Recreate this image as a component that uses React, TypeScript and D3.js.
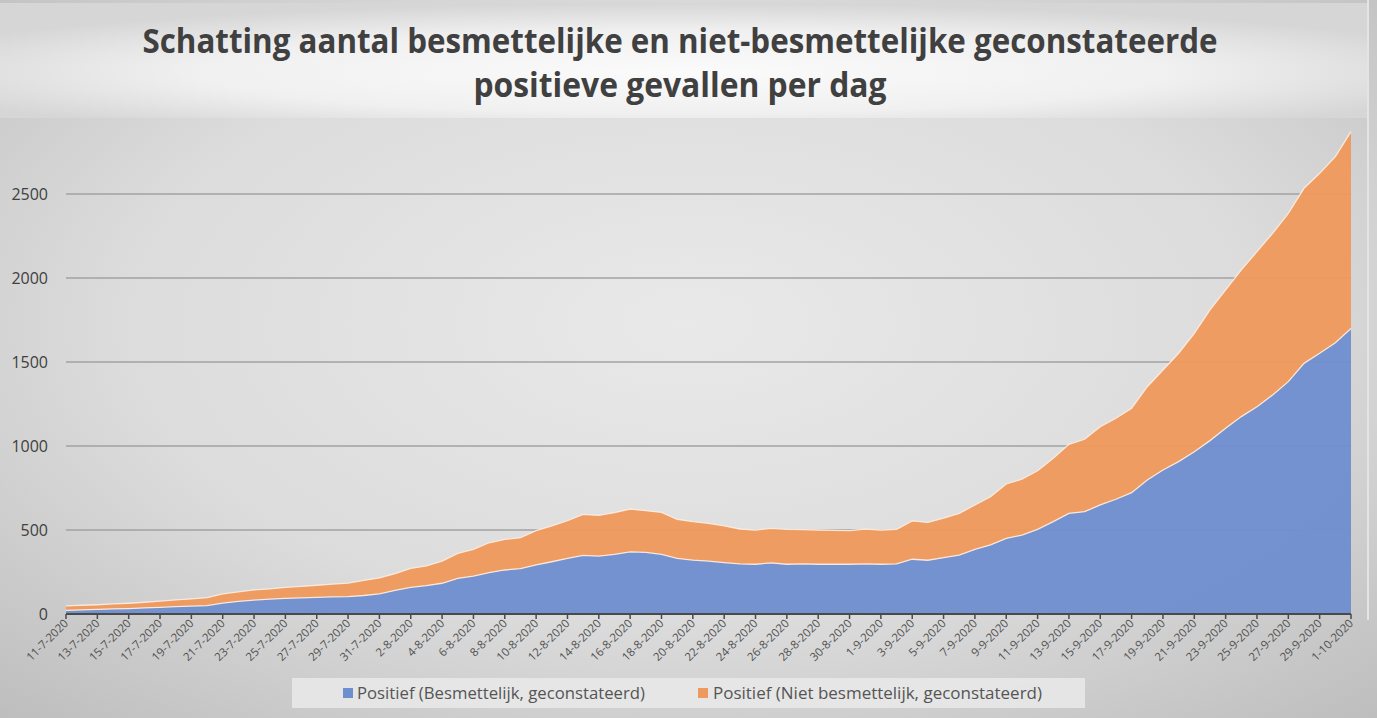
import React from "react";
import * as d3 from "d3";

const dates: string[] = [
  "11-7-2020","12-7-2020","13-7-2020","14-7-2020","15-7-2020","16-7-2020","17-7-2020","18-7-2020","19-7-2020","20-7-2020",
  "21-7-2020","22-7-2020","23-7-2020","24-7-2020","25-7-2020","26-7-2020","27-7-2020","28-7-2020","29-7-2020","30-7-2020",
  "31-7-2020","1-8-2020","2-8-2020","3-8-2020","4-8-2020","5-8-2020","6-8-2020","7-8-2020","8-8-2020","9-8-2020",
  "10-8-2020","11-8-2020","12-8-2020","13-8-2020","14-8-2020","15-8-2020","16-8-2020","17-8-2020","18-8-2020","19-8-2020",
  "20-8-2020","21-8-2020","22-8-2020","23-8-2020","24-8-2020","25-8-2020","26-8-2020","27-8-2020","28-8-2020","29-8-2020",
  "30-8-2020","31-8-2020","1-9-2020","2-9-2020","3-9-2020","4-9-2020","5-9-2020","6-9-2020","7-9-2020","8-9-2020",
  "9-9-2020","10-9-2020","11-9-2020","12-9-2020","13-9-2020","14-9-2020","15-9-2020","16-9-2020","17-9-2020","18-9-2020",
  "19-9-2020","20-9-2020","21-9-2020","22-9-2020","23-9-2020","24-9-2020","25-9-2020","26-9-2020","27-9-2020","28-9-2020",
  "29-9-2020","30-9-2020","1-10-2020",
];

// Positief (Besmettelijk, geconstateerd)
const besmettelijk: number[] = [
  21, 24, 27, 30, 32, 36, 40, 44, 47, 50,
  65, 75, 83, 88, 93, 96, 99, 102, 104, 110,
  120, 140, 159, 169, 183, 212, 226, 246, 262, 270,
  292, 311, 331, 349, 345, 355, 370, 367, 355, 331,
  321, 315, 306, 298, 296, 304, 296, 298, 296, 296,
  296, 298, 296, 298, 326, 320, 335, 351, 385, 411,
  450, 470, 504, 550, 599, 609, 649, 683, 722, 798,
  857, 907, 966, 1032, 1105, 1175, 1234, 1304, 1383, 1492,
  1552, 1615, 1700,
];

// Positief (Niet besmettelijk, geconstateerd)
const nietBesmettelijk: number[] = [
  27, 28, 28, 30, 32, 34, 37, 40, 43, 47,
  55, 57, 60, 62, 66, 68, 72, 76, 80, 90,
  95, 100, 113, 117, 132, 149, 159, 178, 182, 184,
  204, 213, 224, 244, 242, 248, 255, 248, 250, 233,
  229, 225, 219, 208, 204, 206, 208, 204, 204, 202,
  200, 207, 204, 206, 228, 225, 235, 248, 264, 287,
  324, 332, 349, 377, 411, 431, 466, 482, 502, 555,
  595, 645, 705, 778, 824, 873, 923, 962, 1002, 1042,
  1071, 1107, 1171,
];

const yTicks: number[] = [0, 500, 1000, 1500, 2000, 2500];
const seriesNames: string[] = [
  "Positief (Besmettelijk, geconstateerd)",
  "Positief (Niet besmettelijk, geconstateerd)",
];
const seriesColors: string[] = ["#6E8FCE", "#EE995D"];
const titleLines: string[] = [
  "Schatting aantal besmettelijke en niet-besmettelijke geconstateerde",
  "positieve gevallen per dag",
];

const W = 1377;
const H = 718;
const font = "'Open Sans', 'Noto Sans', sans-serif";

export default function App() {
  const x = d3.scaleLinear().domain([0, dates.length - 1]).range([66, 1351]);
  const y = d3.scaleLinear().domain([0, 2500]).range([614, 194]);

  const rows = dates.map((d, i) => ({ i, b: besmettelijk[i], n: nietBesmettelijk[i] }));
  const stack = d3.stack<any>().keys(["b", "n"]);
  const layers = stack(rows);
  const area = d3
    .area<any>()
    .x((d: any) => x(d.data.i))
    .y0((d: any) => y(d[0]))
    .y1((d: any) => y(d[1]));
  const topLine = d3
    .line<any>()
    .x((d: any) => x(d.data.i))
    .y((d: any) => y(d[1]));

  const labelIdx = dates.map((_, i) => i).filter((i) => i % 2 === 0);

  return (
    <svg
      width={W}
      height={H}
      style={{ position: "absolute", left: 0, top: 0, display: "block" }}
    >
      <defs>
        <radialGradient id="bgGrad" cx="50%" cy="45%" r="75%">
          <stop offset="0%" stopColor="#e9e9e9" />
          <stop offset="55%" stopColor="#dcdcdc" />
          <stop offset="100%" stopColor="#bdbdbd" />
        </radialGradient>
        <radialGradient id="titleGrad" cx="50%" cy="60%" r="60%" fx="50%" fy="60%">
          <stop offset="0%" stopColor="#fbfbfb" />
          <stop offset="60%" stopColor="#f0f0f0" />
          <stop offset="100%" stopColor="#d6d6d6" />
        </radialGradient>
      </defs>
      <rect x={0} y={0} width={W} height={H} fill="url(#bgGrad)" />
      <rect x={0} y={3} width={1368} height={115} fill="url(#titleGrad)" />
      <line x1={1368} x2={1368} y1={0} y2={620} stroke="#e4e4e4" strokeWidth={2} />

      {titleLines.map((t, i) => (
        <text
          key={i}
          x={680}
          y={i === 0 ? 53 : 97}
          textAnchor="middle"
          fontFamily={font}
          fontWeight={700}
          fontSize={34}
          fill="#404040"
          textLength={i === 0 ? 1075 : 413}
          lengthAdjust="spacingAndGlyphs"
        >
          {t}
        </text>
      ))}

      {yTicks.slice(1).map((t) => (
        <line
          key={t}
          x1={66}
          x2={1351}
          y1={y(t)}
          y2={y(t)}
          stroke="#a2a2a2"
          strokeWidth={1.5}
        />
      ))}

      {layers.map((layer, k) => (
        <path key={k} d={area(layer) || ""} fill={seriesColors[k]} opacity={0.96} />
      ))}
      {layers.map((layer, k) => (
        <path
          key={"l" + k}
          d={topLine(layer) || ""}
          fill="none"
          stroke="#fdeee2"
          strokeWidth={1.3}
          opacity={0.9}
        />
      ))}

      {yTicks.map((t) => (
        <text
          key={t}
          x={48}
          y={y(t) + 6}
          textAnchor="end"
          fontFamily={font}
          fontSize={16}
          fill="#404040"
        >
          {t}
        </text>
      ))}

      <line x1={66} x2={1351} y1={614} y2={614} stroke="#4a4a4a" strokeWidth={2} />
      {labelIdx.map((i) => (
        <line
          key={i}
          x1={x(i)}
          x2={x(i)}
          y1={614}
          y2={619}
          stroke="#4a4a4a"
          strokeWidth={1.5}
        />
      ))}
      {labelIdx.map((i) => (
        <text
          key={"t" + i}
          transform={`translate(${x(i) + 3},${624}) rotate(-45)`}
          textAnchor="end"
          fontFamily={font}
          fontSize={11.5}
          fill="#505050"
        >
          {dates[i]}
        </text>
      ))}

      <rect x={292} y={678} width={793} height={30} fill="#e8e8e8" opacity={0.9} />
      <rect x={343} y={688} width={10} height={10} fill={seriesColors[0]} />
      <text x={357} y={699} fontFamily={font} fontSize={17} fill="#555555" textLength={288} lengthAdjust="spacingAndGlyphs">
        {seriesNames[0]}
      </text>
      <rect x={698} y={688} width={10} height={10} fill={seriesColors[1]} />
      <text x={713} y={699} fontFamily={font} fontSize={17} fill="#555555" textLength={329} lengthAdjust="spacingAndGlyphs">
        {seriesNames[1]}
      </text>
    </svg>
  );
}
